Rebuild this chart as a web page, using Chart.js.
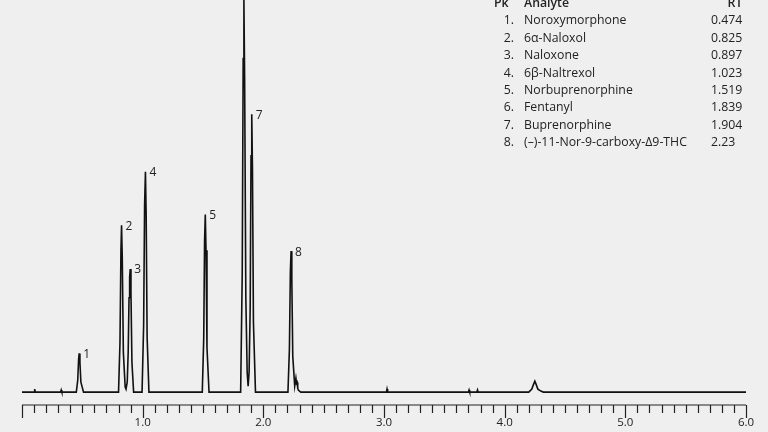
<!DOCTYPE html>
<html><head><meta charset="utf-8">
<script src="https://cdn.jsdelivr.net/npm/chart.js@4"></script>
<style>
body{margin:0;background:#efefef;font-family:"Open Sans",sans-serif;}
#wrap{position:relative;width:768px;height:432px;}
#tbl{position:absolute;left:494px;top:-6px;font-size:12.3px;color:#222;border-collapse:collapse;}
#tbl td{padding:0;height:17.4px;line-height:17.4px;}
#tbl th{padding:0;height:17.4px;font-weight:600;text-align:left;}
</style></head><body>
<div id="wrap"><canvas id="chart" width="768" height="432"></canvas>
<table id="tbl"></table></div>
<script>
// peak table
const peakNames = ['Noroxymorphone','6α-Naloxol','Naloxone','6β-Naltrexol','Norbuprenorphine','Fentanyl','Buprenorphine','(–)-11-Nor-9-carboxy-Δ9-THC'];
const peakRT = ['0.474','0.825','0.897','1.023','1.519','1.839','1.904','2.23'];
// apex of each numbered peak (time, signal)
const apexTime = [0.474,0.825,0.897,1.023,1.519,1.839,1.904,2.23];
const apexSignal = [39,168,124,222,179,395,280,142];
// x axis labels (minutes)
const xTickLabels = [1.0,2.0,3.0,4.0,5.0,6.0];

// chromatogram trace
const traceTime = [0,0.10,0.105,0.11,0.32,0.325,0.33,
 0.45,0.462,0.469,0.474,0.48,0.488,0.51,
 0.80,0.812,0.82,0.825,0.831,0.84,0.855,0.862,0.872,0.88,0.887,0.892,0.897,0.903,0.911,0.925,
 0.995,1.008,1.016,1.023,1.029,1.037,1.052,
 1.494,1.506,1.513,1.519,1.525,1.533,1.55,
 1.812,1.825,1.833,1.839,1.845,1.855,1.866,1.874,1.882,1.891,1.898,1.904,1.910,1.918,1.935,
 2.204,2.216,2.224,2.23,2.236,2.244,2.26,2.27,2.275,2.28,2.285,2.29,2.31,
 3.02,3.025,3.03,3.7,3.705,3.71,3.77,3.775,3.78,
 4.20,4.225,4.24,4.25,4.26,4.275,4.30,4.32,6.0];
const traceSignal = [0,0,3,0,0,2,0,
 0,12,33,39,30,10,0,
 0,50,143,168,135,40,5,3,10,40,95,116,124,100,30,0,
 0,67,189,222,178,55,0,
 0,54,152,179,143,45,0,
 0,118,336,395,316,95,20,6,20,84,238,280,224,70,0,
 0,43,121,142,114,36,6,14,9,10,4,2,0,
 0,3,0,0,2,0,0,2,0,
 0,3,8,11,8,3,1,0,0];

const tbl = document.getElementById('tbl');
let h = '<tr><th style="width:30px">Pk</th><th style="width:187px">Analyte</th><th style="width:26px;text-align:right">RT</th></tr>';
peakNames.forEach((n,i) => {
  h += '<tr><td style="text-align:right;padding-right:10px">'+(i+1)+'.</td><td>'+n+'</td><td style="text-align:left">'+peakRT[i]+'</td></tr>';
});
tbl.innerHTML = h;

const peakLabels = {
  id: 'peakLabels',
  afterDatasetsDraw(c) {
    const ctx = c.ctx, x = c.scales.x, y = c.scales.y;
    ctx.save();
    ctx.fillStyle = '#222';
    ctx.font = '12px "Open Sans"';
    ctx.textBaseline = 'middle';
    apexTime.forEach((t,i) => {
      if (i === 5) return;
      ctx.fillText(String(i+1), x.getPixelForValue(t)+4, y.getPixelForValue(apexSignal[i])+1);
    });
    // axis line, ticks and labels
    ctx.strokeStyle = '#222';
    ctx.lineWidth = 1.2;
    const top = c.chartArea.bottom;
    ctx.beginPath();
    ctx.moveTo(x.left, top); ctx.lineTo(x.right, top);
    for (let k = 0; k <= 60; k++) {
      const px = Math.round(x.getPixelForValue(k/10))+0.5;
      ctx.moveTo(px, top); ctx.lineTo(px, top + (k % 10 === 0 ? 13 : 8));
    }
    ctx.stroke();
    ctx.font = '11.5px "Open Sans"';
    ctx.textAlign = 'center';
    xTickLabels.forEach(v => ctx.fillText(v.toFixed(1), x.getPixelForValue(v), top + 18));
    ctx.restore();
  }
};

new Chart(document.getElementById('chart'), {
  type: 'line',
  data: { datasets: [{
    data: traceTime.map((t,i) => ({x:t, y:traceSignal[i]})),
    borderColor: '#111', borderWidth: 1.6, pointRadius: 0, tension: 0
  }]},
  options: {
    responsive: false, animation: false,
    layout: { padding: { left: 22, right: 22, top: 0, bottom: 27 } },
    plugins: { legend: { display: false }, tooltip: { enabled: false } },
    scales: {
      x: { type: 'linear', min: 0, max: 6.0, display: false },
      y: { display: false, min: -13, max: 395 }
    }
  },
  plugins: [peakLabels]
});
</script></body></html>
